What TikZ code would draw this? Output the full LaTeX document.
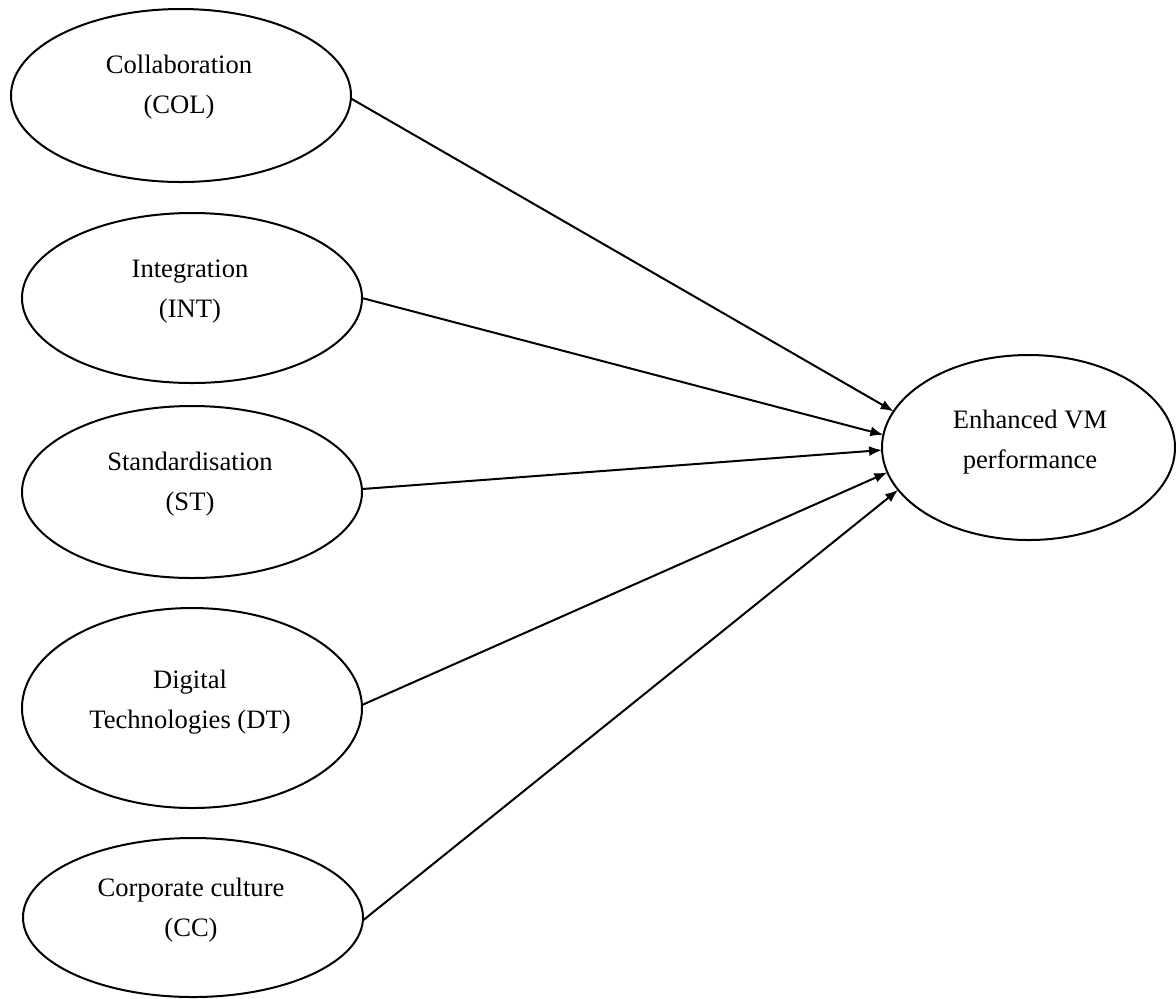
\documentclass[tikz,border=0pt]{standalone}
\usepackage{fontspec}
\setmainfont{Liberation Serif}
\usetikzlibrary{shapes.geometric,arrows.meta}

\begin{document}
\begin{tikzpicture}[x=0.5pt,y=-0.5pt,
  construct/.style={ellipse,draw=black,line width=1pt,inner sep=0pt,outer sep=0pt},
  caption/.style={align=center,inner sep=0pt,font=\fontsize{13.3}{20}\selectfont},
  path/.style={line width=1pt,-{Latex[length=6.5pt,width=5pt]}}
]
\useasboundingbox (0,0) rectangle (1176,998);

% predictor constructs
\node[construct,minimum width=170pt,minimum height=86.5pt] (col) at (181,95.5) {};
\node[caption] (colt) at (179,87) {Collaboration\\(COL)};

\node[construct,minimum width=170pt,minimum height=85pt] (int) at (192,298) {};
\node[caption] (intt) at (190,291.5) {Integration\\(INT)};

\node[construct,minimum width=170pt,minimum height=86pt] (st) at (192,492) {};
\node[caption] (stt) at (190,484) {Standardisation\\(ST)};

\node[construct,minimum width=170pt,minimum height=100pt] (dt) at (192,708) {};
\node[caption] (dtt) at (190,702) {Digital\\Technologies (DT)};

\node[construct,minimum width=170pt,minimum height=79.5pt] (cc) at (193,917.5) {};
\node[caption] (cct) at (191,910) {Corporate culture\\(CC)};

% outcome construct
\node[construct,minimum width=146.5pt,minimum height=92.5pt] (vm) at (1028.5,447.5) {};
\node[caption] (vmt) at (1030,442) {Enhanced VM\\performance};

% hypothesised paths
\draw[path] (col.-1.5) -- (vm.165.8);
\draw[path] (int.0) -- (vm.175.1);
\draw[path] (st.1.7) -- (vm.181);
\draw[path] (dt.1.7) -- (vm.190.8);
\draw[path] (cc.-1.9) -- (vm.198.8);
\end{tikzpicture}
\end{document}
